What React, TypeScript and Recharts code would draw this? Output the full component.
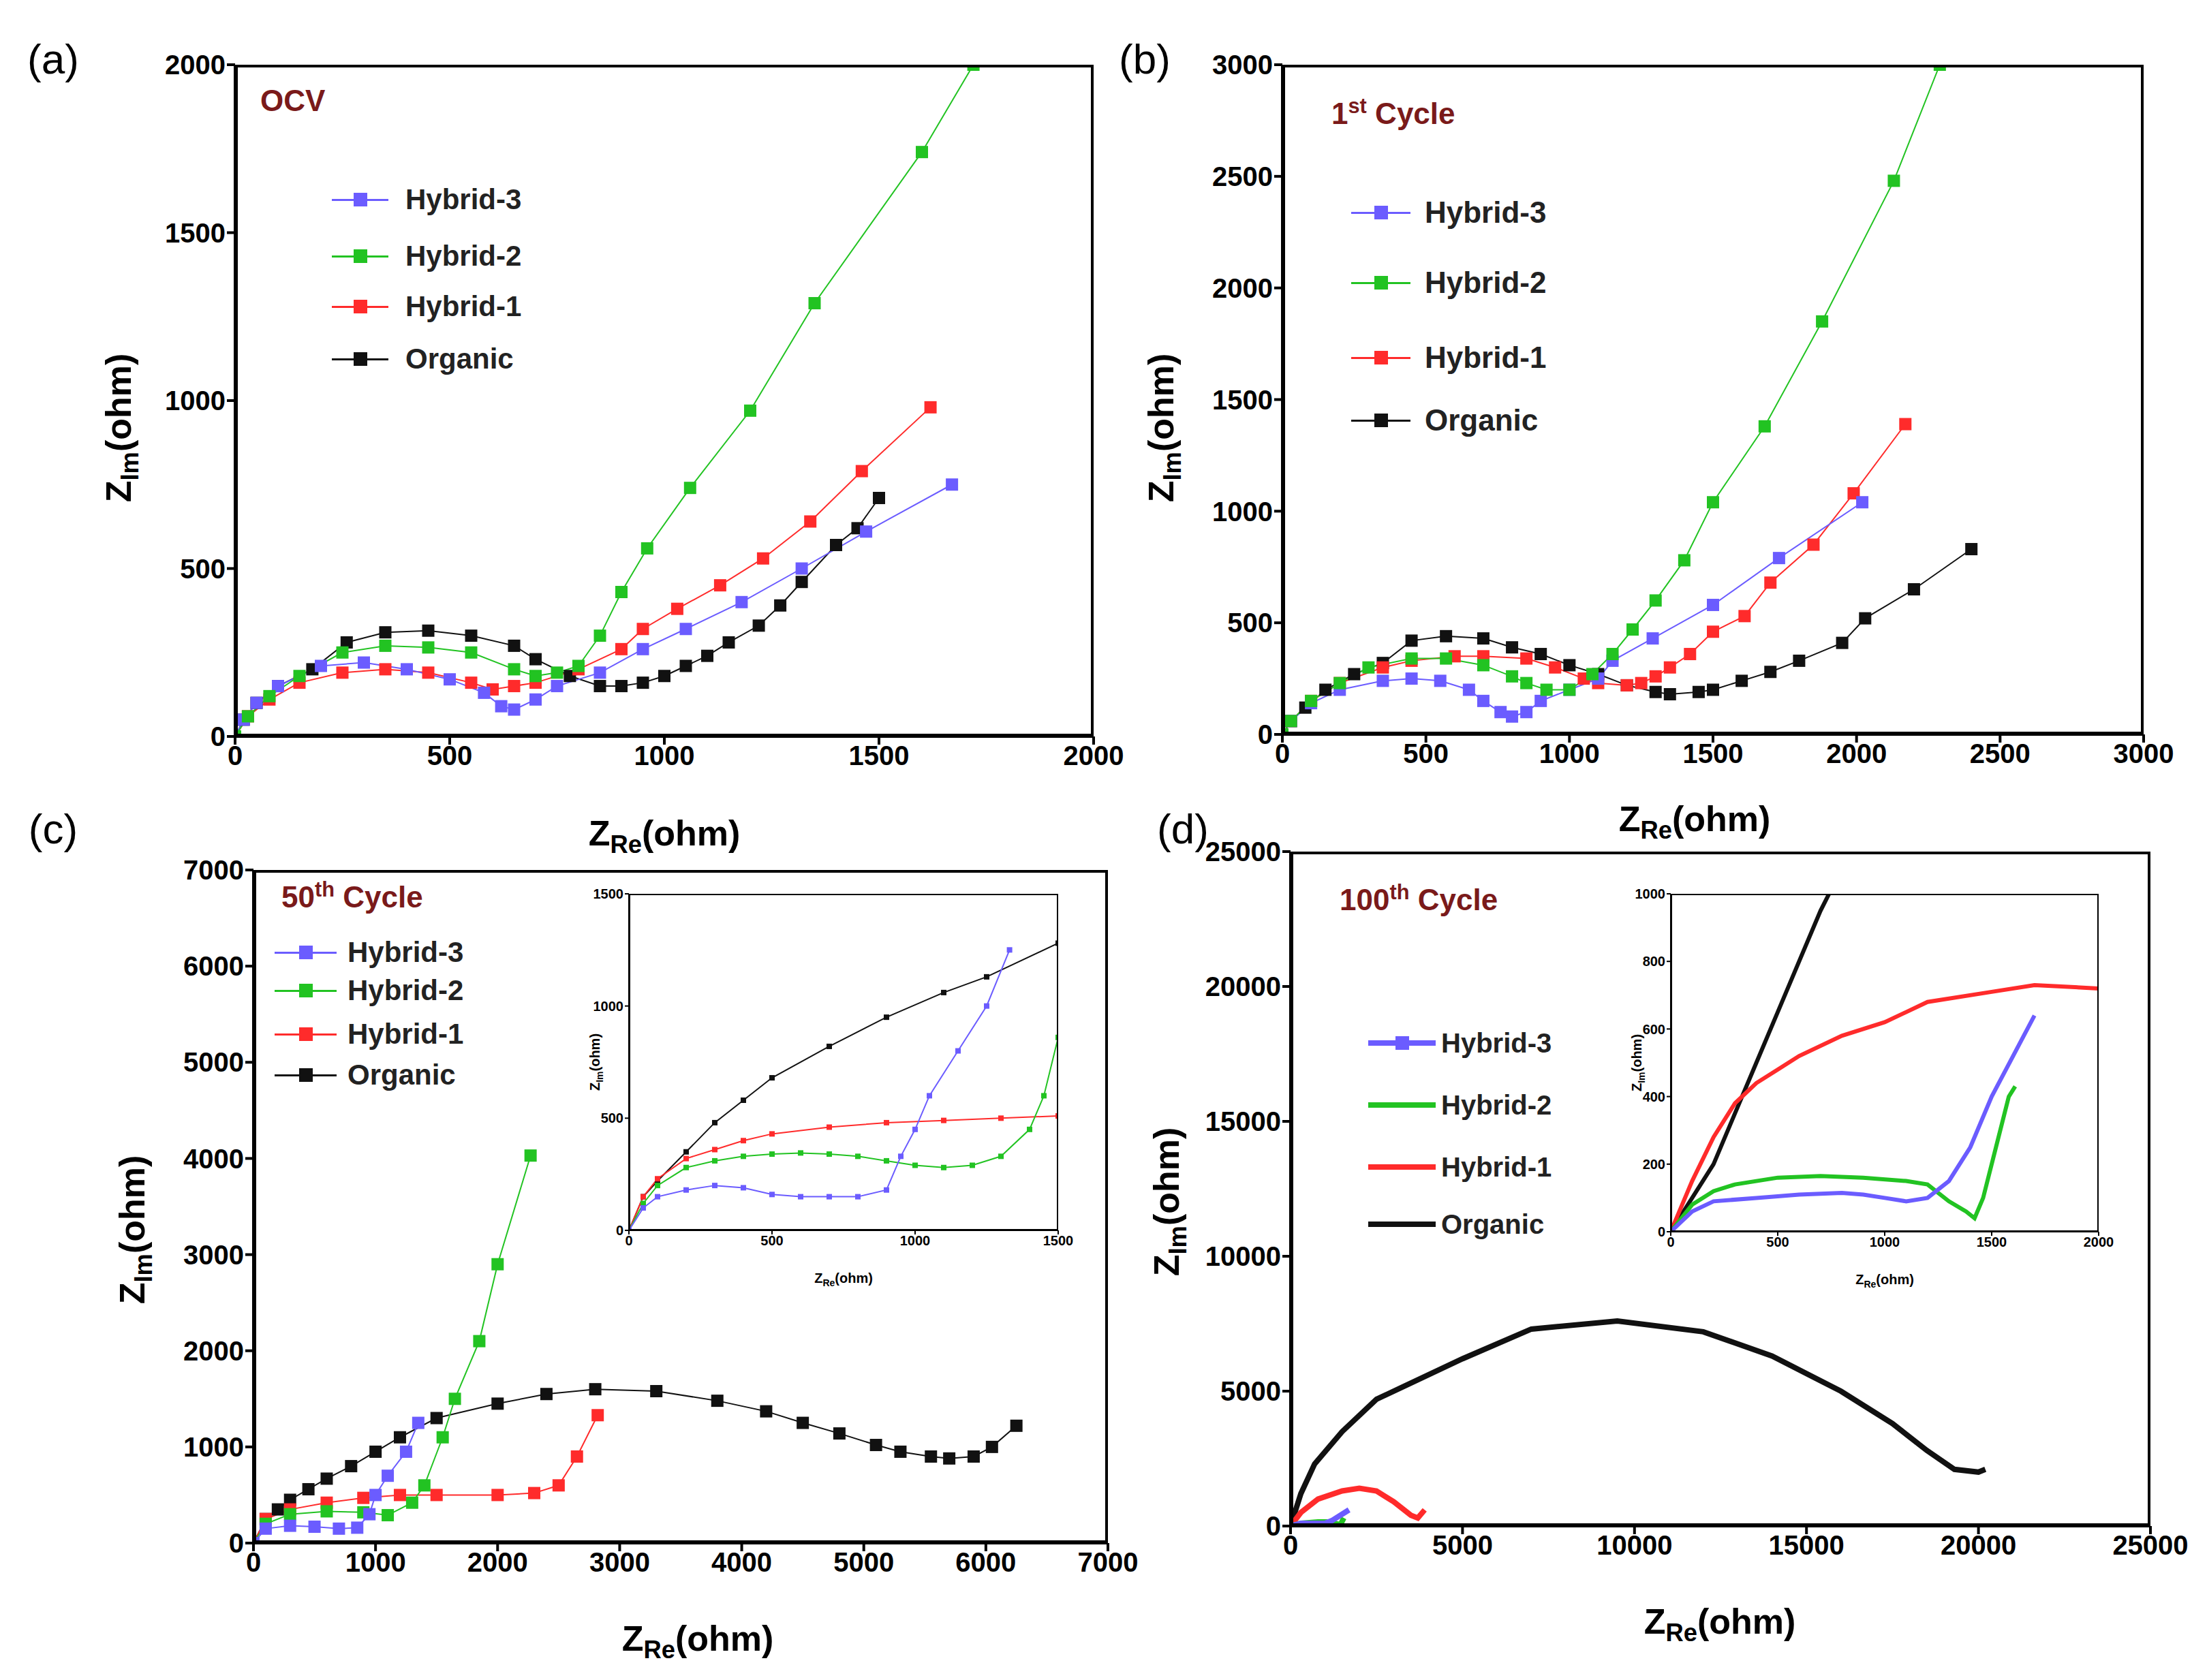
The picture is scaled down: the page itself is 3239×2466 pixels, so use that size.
import React from 'react';
import { LineChart, Line, XAxis, YAxis } from 'recharts';

type P = { x: number; y: number };
const pts = (a: number[][]): P[] => a.map(([x, y]) => ({ x, y }));

const PURPLE = '#6b5cff', GREEN = '#22c322', RED = '#ff2b2b', BLACK = '#111111', TITLE = '#7a1a1a';

// (a) OCV
const aOrganic = pts([[0,0],[20,50],[50,100],[100,150],[180,200],[260,280],[350,310],[450,315],[550,300],[650,270],[700,230],[780,180],[850,150],[900,150],[950,160],[1000,180],[1050,210],[1100,240],[1150,280],[1220,330],[1270,390],[1320,460],[1400,570],[1450,620],[1500,710]]);
const aHybrid2 = pts([[0,0],[30,60],[80,120],[150,180],[250,250],[350,270],[450,265],[550,250],[650,200],[700,180],[750,190],[800,210],[850,300],[900,430],[960,560],[1060,740],[1200,970],[1350,1290],[1600,1740],[1720,2000]]);
const aHybrid1 = pts([[0,0],[30,60],[80,110],[150,160],[250,190],[350,200],[450,190],[550,160],[600,140],[650,150],[700,160],[800,200],[900,260],[950,320],[1030,380],[1130,450],[1230,530],[1340,640],[1460,790],[1620,980]]);
const aHybrid3 = pts([[0,0],[20,50],[50,100],[100,150],[200,210],[300,220],[400,200],[500,170],[580,130],[620,90],[650,80],[700,110],[750,150],[850,190],[950,260],[1050,320],[1180,400],[1320,500],[1470,610],[1670,750]]);
// (b) 1st cycle
const bOrganic = pts([[0,0],[30,60],[80,120],[150,200],[250,270],[350,320],[450,420],[570,440],[700,430],[800,390],[900,360],[1000,310],[1100,270],[1200,220],[1300,190],[1350,180],[1450,190],[1500,200],[1600,240],[1700,280],[1800,330],[1950,410],[2030,520],[2200,650],[2400,830]]);
const bHybrid2 = pts([[0,0],[30,60],[100,150],[200,230],[300,300],[450,340],[570,340],[700,310],[800,260],[850,230],[920,200],[1000,200],[1080,270],[1150,360],[1220,470],[1300,600],[1400,780],[1500,1040],[1680,1380],[1880,1850],[2130,2480],[2290,3000]]);
const bHybrid1 = pts([[0,0],[30,60],[100,150],[200,230],[350,300],[450,330],[600,350],[700,350],[850,340],[950,300],[1050,250],[1100,230],[1200,220],[1250,230],[1300,260],[1350,300],[1420,360],[1500,460],[1610,530],[1700,680],[1850,850],[1990,1080],[2170,1390]]);
const bHybrid3 = pts([[0,0],[30,60],[100,140],[200,200],[350,240],[450,250],[550,240],[650,200],[700,150],[760,100],[800,80],[850,100],[900,150],[1000,200],[1100,250],[1150,330],[1290,430],[1500,580],[1730,790],[2020,1040]]);
// (c) 50th cycle
const cOrganic = pts([[0,0],[100,250],[200,350],[300,450],[450,560],[600,670],[800,800],[1000,950],[1200,1100],[1500,1300],[2000,1450],[2400,1550],[2800,1600],[3300,1580],[3800,1480],[4200,1370],[4500,1250],[4800,1140],[5100,1020],[5300,950],[5550,900],[5700,880],[5900,900],[6050,1000],[6250,1220]]);
const cHybrid2 = pts([[0,0],[100,200],[300,300],[600,330],[900,320],[1100,290],[1300,420],[1400,600],[1550,1100],[1650,1500],[1850,2100],[2000,2900],[2270,4030]]);
const cHybrid1 = pts([[0,0],[100,250],[300,350],[600,420],[900,470],[1200,500],[1500,500],[2000,500],[2300,520],[2500,600],[2650,900],[2820,1330]]);
const cHybrid3 = pts([[0,0],[100,150],[300,180],[500,170],[700,150],[850,160],[950,300],[1000,500],[1100,700],[1250,950],[1350,1250]]);
const ciOrganic = pts([[0,0],[50,150],[100,220],[200,350],[300,480],[400,580],[500,680],[700,820],[900,950],[1100,1060],[1250,1130],[1500,1280]]);
const ciHybrid2 = pts([[0,0],[50,120],[100,200],[200,280],[300,310],[400,330],[500,340],[600,345],[700,340],[800,330],[900,310],[1000,290],[1100,280],[1200,290],[1300,330],[1400,450],[1450,600],[1500,860]]);
const ciHybrid1 = pts([[0,0],[50,150],[100,230],[200,320],[300,360],[400,400],[500,430],[700,460],[900,480],[1100,490],[1300,500],[1500,510]]);
const ciHybrid3 = pts([[0,0],[50,100],[100,150],[200,180],[300,200],[400,190],[500,160],[600,150],[700,150],[800,150],[900,180],[950,330],[1000,450],[1050,600],[1150,800],[1250,1000],[1330,1250]]);
// (d) 100th cycle
const dOrganic = pts([[0,0],[300,1200],[700,2300],[1500,3500],[2500,4700],[3500,5300],[5000,6200],[7000,7300],[9500,7600],[12000,7200],[14000,6300],[16000,5000],[17500,3800],[18500,2800],[19300,2100],[20000,2000],[20200,2100]]);
const dHybrid1 = pts([[0,0],[300,500],[800,1000],[1500,1300],[2000,1400],[2500,1300],[3000,900],[3500,400],[3700,300],[3900,600]]);
const dHybrid2 = pts([[0,0],[300,100],[800,150],[1100,150],[1300,100],[1450,50],[1550,300]]);
const dHybrid3 = pts([[0,0],[300,100],[700,100],[1000,100],[1200,200],[1700,600]]);
const diOrganic = pts([[0,0],[100,100],[200,200],[300,350],[400,500],[500,650],[600,800],[700,950],[740,1000]]);
const diHybrid1 = pts([[0,0],[100,150],[200,280],[300,380],[400,440],[500,480],[600,520],[800,580],[1000,620],[1200,680],[1500,710],[1700,730],[2000,720]]);
const diHybrid2 = pts([[0,0],[50,40],[100,80],[200,120],[300,140],[500,160],[700,165],[900,160],[1100,150],[1200,140],[1300,90],[1380,60],[1420,40],[1460,100],[1520,250],[1580,400],[1610,430]]);
const diHybrid3 = pts([[0,0],[50,30],[100,60],[200,90],[400,100],[600,110],[800,115],[900,110],[1000,100],[1100,90],[1200,100],[1300,150],[1400,250],[1500,400],[1600,520],[1700,640]]);

const ticksA = [0, 500, 1000, 1500, 2000];
const ticksB = [0, 500, 1000, 1500, 2000, 2500, 3000];
const ticksC = [0, 1000, 2000, 3000, 4000, 5000, 6000, 7000];
const ticksCi = [0, 500, 1000, 1500];
const ticksD = [0, 5000, 10000, 15000, 20000, 25000];
const ticksDiX = [0, 500, 1000, 1500, 2000];
const ticksDiY = [0, 200, 400, 600, 800, 1000];
const legendNames = ['Hybrid-3', 'Hybrid-2', 'Hybrid-1', 'Organic'];

const FONT = '"Liberation Sans", Arial, sans-serif';

type S = { data: P[]; color: string };
type PanelProps = {
  x: number; y: number; w: number; h: number; xmax: number; ymax: number;
  xt: number[]; yt: number[]; series: S[]; sw: number; dot: number; fs: number;
};

const Panel = ({ x, y, w, h, xmax, ymax, xt, yt, series, sw, dot, fs }: PanelProps) => {
  const L = fs * 4, T = fs, B = fs * 2, R = fs * 2;
  return (
    <div style={{ position: 'absolute', left: x - L, top: y - T }}>
      <LineChart width={w + L + R} height={h + T + B} margin={{ top: T, right: R, left: 0, bottom: 0 }}>
        <XAxis dataKey="x" type="number" domain={[0, xmax]} ticks={xt} allowDataOverflow height={B}
          tick={{ fill: '#000', fontSize: fs, fontWeight: 'bold', fontFamily: FONT }} tickSize={fs * 0.3}
          stroke="#000" strokeWidth={fs / 10} />
        <YAxis dataKey="y" type="number" domain={[0, ymax]} ticks={yt} allowDataOverflow width={L}
          tick={{ fill: '#000', fontSize: fs, fontWeight: 'bold', fontFamily: FONT }} tickSize={fs * 0.3}
          stroke="#000" strokeWidth={fs / 10} />
        {series.map((s, i) => (
          <Line key={i} data={s.data} dataKey="y" stroke={s.color} strokeWidth={sw} isAnimationActive={false}
            dot={dot > 0 ? ((p: any) => <rect key={p.index} x={p.cx - dot / 2} y={p.cy - dot / 2} width={dot} height={dot} fill={s.color} />) : false} />
        ))}
      </LineChart>
      <div style={{ position: 'absolute', left: L, top: T, width: w, height: h, border: `${fs / 10}px solid #000`, boxSizing: 'border-box', pointerEvents: 'none' }} />
    </div>
  );
};

const Txt = ({ x, y, size, children, color = '#000', bold = true, rot = false }: any) => (
  <div style={{ position: 'absolute', left: x, top: y, fontFamily: FONT, fontSize: size, fontWeight: bold ? 'bold' : 'normal', color, whiteSpace: 'nowrap', transform: rot ? 'translate(-50%,-50%) rotate(-90deg)' : 'translate(-50%,-50%)' }}>{children}</div>
);

const Legend = ({ x, x2, tx, ys, size, lw, sq, marker }: any) => {
  const cols = [PURPLE, GREEN, RED, BLACK];
  return (
    <>
      {legendNames.map((n, i) => (
        <React.Fragment key={n}>
          <div style={{ position: 'absolute', left: x, top: ys[i] - lw / 2, width: x2 - x, height: lw, background: cols[i] }} />
          {(marker || i === 0) && <div style={{ position: 'absolute', left: (x + x2) / 2 - sq / 2, top: ys[i] - sq / 2, width: sq, height: sq, background: cols[i] }} />}
          <div style={{ position: 'absolute', left: tx, top: ys[i], transform: 'translateY(-50%)', fontFamily: FONT, fontSize: size, fontWeight: 'bold', color: '#222' }}>{n}</div>
        </React.Fragment>
      ))}
    </>
  );
};

const ZRe = () => <>Z<sub style={{ fontSize: '0.7em' }}>Re</sub>(ohm)</>;
const ZIm = () => <>Z<sub style={{ fontSize: '0.7em' }}>Im</sub>(ohm)</>;

export default function App() {
  return (
    <div style={{ position: 'relative', width: 3239, height: 2466, background: '#fff', overflow: 'hidden' }}>
      <Panel x={337} y={87} w={1260} h={986} xmax={2000} ymax={2000} xt={ticksA} yt={ticksA} sw={2} dot={18} fs={40}
        series={[{ data: aOrganic, color: BLACK }, { data: aHybrid1, color: RED }, { data: aHybrid3, color: PURPLE }, { data: aHybrid2, color: GREEN }]} />
      <Panel x={1874} y={87} w={1264} h={983} xmax={3000} ymax={3000} xt={ticksB} yt={ticksB} sw={2} dot={18} fs={40}
        series={[{ data: bOrganic, color: BLACK }, { data: bHybrid1, color: RED }, { data: bHybrid3, color: PURPLE }, { data: bHybrid2, color: GREEN }]} />
      <Panel x={364} y={1269} w={1254} h={988} xmax={7000} ymax={7000} xt={ticksC} yt={ticksC} sw={2} dot={18} fs={40}
        series={[{ data: cOrganic, color: BLACK }, { data: cHybrid1, color: RED }, { data: cHybrid2, color: GREEN }, { data: cHybrid3, color: PURPLE }]} />
      <Panel x={1886} y={1242} w={1262} h={990} xmax={25000} ymax={25000} xt={ticksD} yt={ticksD} sw={8} dot={0} fs={40}
        series={[{ data: dOrganic, color: BLACK }, { data: dHybrid1, color: RED }, { data: dHybrid2, color: GREEN }, { data: dHybrid3, color: PURPLE }]} />
      <div style={{ position: 'absolute', left: 915, top: 1304, width: 630, height: 494, background: '#fff' }} />
      <Panel x={915} y={1304} w={630} h={494} xmax={1500} ymax={1500} xt={ticksCi} yt={ticksCi} sw={2} dot={8} fs={20}
        series={[{ data: ciOrganic, color: BLACK }, { data: ciHybrid1, color: RED }, { data: ciHybrid2, color: GREEN }, { data: ciHybrid3, color: PURPLE }]} />
      <div style={{ position: 'absolute', left: 2444, top: 1304, width: 628, height: 496, background: '#fff' }} />
      <Panel x={2444} y={1304} w={628} h={496} xmax={2000} ymax={1000} xt={ticksDiX} yt={ticksDiY} sw={6} dot={0} fs={20}
        series={[{ data: diOrganic, color: BLACK }, { data: diHybrid1, color: RED }, { data: diHybrid2, color: GREEN }, { data: diHybrid3, color: PURPLE }]} />

      <Txt x={70} y={78} size={62} bold={false}>(a)</Txt>
      <Txt x={1672} y={78} size={62} bold={false}>(b)</Txt>
      <Txt x={70} y={1208} size={62} bold={false}>(c)</Txt>
      <Txt x={1728} y={1208} size={62} bold={false}>(d)</Txt>

      <div style={{ position: 'absolute', left: 374, top: 115, fontFamily: FONT, fontSize: 44, fontWeight: 'bold', color: TITLE }}>OCV</div>
      <div style={{ position: 'absolute', left: 1946, top: 130, fontFamily: FONT, fontSize: 44, fontWeight: 'bold', color: TITLE }}>1<sup style={{ fontSize: '0.7em' }}>st</sup> Cycle</div>
      <div style={{ position: 'absolute', left: 405, top: 1280, fontFamily: FONT, fontSize: 44, fontWeight: 'bold', color: TITLE }}>50<sup style={{ fontSize: '0.7em' }}>th</sup> Cycle</div>
      <div style={{ position: 'absolute', left: 1958, top: 1284, fontFamily: FONT, fontSize: 44, fontWeight: 'bold', color: TITLE }}>100<sup style={{ fontSize: '0.7em' }}>th</sup> Cycle</div>

      <Legend x={479} x2={562} tx={587} ys={[285, 368, 442, 519]} size={42} lw={3} sq={20} marker />
      <Legend x={1975} x2={2062} tx={2083} ys={[304, 407, 517, 609]} size={44} lw={3} sq={20} marker />
      <Legend x={395} x2={486} tx={502} ys={[1390, 1446, 1510, 1570]} size={42} lw={3} sq={20} marker />
      <Legend x={2000} x2={2099} tx={2107} ys={[1523, 1614, 1705, 1789]} size={40} lw={8} sq={20} marker={false} />

      <Txt x={967} y={1219} size={52}><ZRe /></Txt>
      <Txt x={2479} y={1198} size={52}><ZRe /></Txt>
      <Txt x={1016} y={2401} size={52}><ZRe /></Txt>
      <Txt x={2516} y={2376} size={52}><ZRe /></Txt>
      <Txt x={170} y={620} size={52} rot><ZIm /></Txt>
      <Txt x={1700} y={620} size={52} rot><ZIm /></Txt>
      <Txt x={190} y={1797} size={52} rot><ZIm /></Txt>
      <Txt x={1708} y={1756} size={52} rot><ZIm /></Txt>
      <Txt x={1230} y={1870} size={20}><ZRe /></Txt>
      <Txt x={2758} y={1872} size={20}><ZRe /></Txt>
      <Txt x={867} y={1551} size={20} rot><ZIm /></Txt>
      <Txt x={2396} y={1552} size={20} rot><ZIm /></Txt>
    </div>
  );
}
